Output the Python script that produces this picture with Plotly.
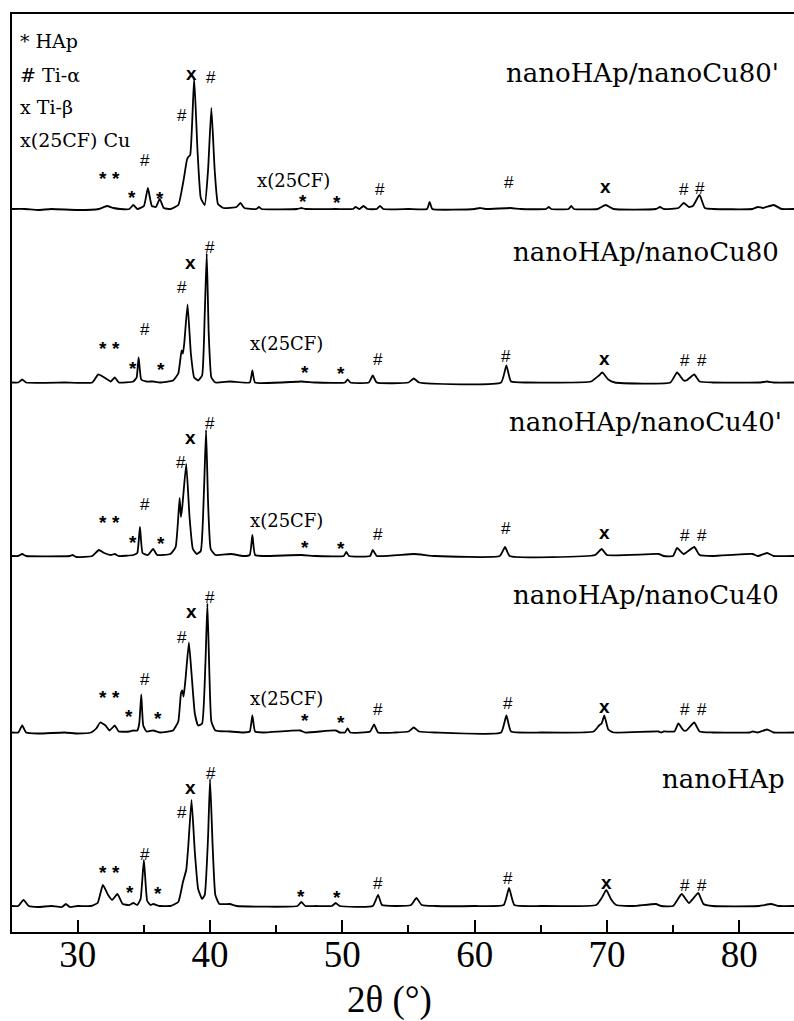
import plotly.graph_objects as go

# ---------------- data ----------------
samples = ["nanoHAp/nanoCu80'", "nanoHAp/nanoCu80", "nanoHAp/nanoCu40'",
           "nanoHAp/nanoCu40", "nanoHAp"]
offsets = [722, 548.5, 375, 198.5, 25]   # vertical stacking offset of each pattern

# (2theta, intensity above baseline)
cu80p = [(25.0,1),(26,1),(27,0),(28,1),(30,0),(31.6,1),(32.2,4),(32.7,2),(33.2,1),(33.9,1),
         (34.2,5),(34.5,1),(35.0,4),(35.3,22),(35.6,4),(35.9,3),(36.2,11),(36.5,2),(37.0,1),
         (37.6,5),(38.0,30),(38.25,50),(38.35,53),(38.5,55),(38.8,132),(39.05,60),(39.3,12),
         (39.6,5),(39.85,40),(40.1,102),(40.35,40),(40.6,6),(41.0,2),(42.0,3),(42.3,7),(42.6,2),
         (43.5,1),(43.7,3),(43.9,1),(46.6,1),(46.9,2),(47.2,1),(49.5,1),(50.8,1),(51.0,3),
         (51.3,1),(51.6,4),(51.9,1),(52.6,1),(52.85,4),(53.1,1),(55,1),(56.4,1),(56.6,8),
         (56.8,1),(60.0,1),(60.4,2),(60.8,1),(62.7,2),(63.5,1),(65.4,1),(65.6,3),(65.8,1),
         (67.1,1),(67.3,4),(67.5,1),(69.3,1),(69.9,5),(70.5,1),(73.7,1),(74.0,3),(74.3,1),
         (75.4,2),(75.8,7),(76.2,3),(76.5,4),(77.0,15),(77.4,2),(78,1),(81.0,1),(81.4,3),
         (81.8,2),(82.6,5),(83.2,1),(84.2,1)]
cu80 = [(25.0,1),(25.5,1),(25.8,4),(26.1,1),(29,1),(31.1,1),(31.55,9),(32.0,6),(32.5,2),
        (32.8,6),(33.1,1),(34.2,2),(34.45,6),(34.6,26),(34.8,4),(35.2,2),(35.7,2),(36.2,1),
        (37.2,3),(37.6,10),(37.85,33),(37.95,30),(38.05,40),(38.3,79),(38.55,30),(38.8,6),
        (39.1,3),(39.4,8),(39.6,70),(39.75,130),(39.9,50),(40.1,6),(40.4,1),(41.5,2),(43.0,1),
        (43.2,13),(43.4,1),(46.9,2),(48,1),(50.2,1),(50.4,4),(50.6,1),(52.0,1),(52.3,8),
        (52.6,1),(55.0,1),(55.4,5),(55.8,1),(62.0,1),(62.4,18),(62.75,2),(64,1),(68.8,2),
        (69.4,8),(69.65,11),(70.1,4),(70.6,1),(74.8,1),(75.3,11),(75.8,3),(76.0,3),(76.6,9),
        (77.0,2),(78,1),(81.6,1),(82.1,2),(82.6,1),(84.2,1)]
cu40p = [(25.0,1),(25.5,1),(25.8,3),(26.1,1),(29.4,1),(29.6,2),(29.9,0),(31.1,1),(31.6,7),
         (32.0,4),(32.5,2),(32.8,3),(33.1,1),(34.2,2),(34.5,4),(34.7,30),(34.9,4),(35.3,2),
         (35.7,8),(36.0,2),(37.0,3),(37.4,10),(37.7,59),(37.8,40),(37.9,50),(38.2,93),
         (38.45,40),(38.7,8),(39.0,3),(39.3,6),(39.55,70),(39.7,127),(39.85,55),(40.05,8),
         (40.4,2),(41.6,3),(42.5,1),(43.0,2),(43.2,22),(43.4,2),(44,1),(46.9,2),(48,1),
         (50.1,1),(50.3,5),(50.5,1),(52.1,1),(52.3,7),(52.6,1),(55.4,3),(57,1),(61.9,1),
         (62.3,10),(62.65,1),(69.1,2),(69.6,8),(70.0,2),(73.9,3),(74.3,1),(75.0,1),(75.3,9),
         (75.8,3),(76.6,10),(77.0,2),(78,1),(81.0,3),(81.4,1),(82.1,4),(82.6,1),(84.2,1)]
cu40 = [(25.0,1),(25.5,1),(25.8,8),(26.1,1),(27,0),(29,1),(30,0),(31.0,1),(31.4,5),(31.7,11),
        (32.1,8),(32.4,3),(32.8,8),(33.1,2),(33.9,2),(34.2,3),(34.5,3),(34.65,10),(34.8,39),
        (34.95,8),(35.2,2),(35.7,3),(36.2,1),(37.2,3),(37.6,12),(37.8,40),(37.9,43),(38.0,37),
        (38.15,55),(38.4,91),(38.6,60),(38.85,20),(39.1,8),(39.4,10),(39.65,70),(39.8,130),
        (39.95,60),(40.1,12),(40.4,3),(41.5,2),(42.5,1),(43.0,2),(43.2,18),(43.4,2),(44,1),
        (46.8,3),(47.2,1),(49.5,3),(49.8,1),(50.2,1),(50.4,5),(50.6,1),(52.1,2),(52.4,9),
        (52.7,1),(54,1),(55.0,2),(55.4,6),(55.8,2),(57,1),(62.0,1),(62.4,18),(62.75,2),(65,1),
        (69.0,2),(69.4,8),(69.6,10),(69.8,18),(70.1,4),(70.5,1),(73.9,2),(74.1,1),(74.3,2),
        (75.1,2),(75.4,10),(75.8,3),(76.0,3),(76.6,11),(77.0,2),(78,1),(80.8,1),(81.0,2),
        (81.4,1),(82.1,4),(82.6,1),(84.2,1)]
hap = [(25.0,1),(25.5,1),(25.9,7),(26.3,1),(27,0),(28,1),(28.8,0),(29.1,3),(29.4,0),(30,1),
       (31,1),(31.5,4),(31.9,22),(32.3,12),(32.6,7),(33.0,13),(33.4,3),(33.9,2),(34.2,4),
       (34.5,2),(34.75,8),(35.0,47),(35.25,6),(35.5,2),(35.7,3),(36.2,1),(37.0,1),(37.6,5),
       (37.95,25),(38.2,37),(38.35,60),(38.6,107),(38.85,55),(39.1,18),(39.4,8),(39.6,12),
       (39.85,70),(40.0,128),(40.2,60),(40.4,12),(40.7,3),(41.5,3),(42,1),(46.6,1),(46.9,5),
       (47.2,1),(48,1),(49.2,1),(49.5,4),(49.8,1),(52.3,1),(52.7,12),(53.0,2),(54,1),(55.2,2),
       (55.6,9),(56.0,2),(57,1),(60,1),(62.2,2),(62.6,19),(63.0,2),(65,1),(69.2,2),(69.6,9),
       (69.95,17),(70.3,8),(70.7,2),(72,1),(73.7,3),(74.1,1),(75.0,1),(75.65,13),(76.2,4),
       (76.9,14),(77.3,3),(78,1),(81.5,1),(82.4,3),(83,1),(84.2,1)]
patterns = [cu80p, cu80, cu40p, cu40, hap]

# phase markers: (symbol, 2theta, y on the stacked axis)
marks = [
    ("x",38.6,859),("#",40.1,855),("#",37.9,817),("*",31.9,759),("*",32.9,759),("#",35.1,772),
    ("*",34.1,740),("*",36.2,739),("x(25CF)",46.3,752),("*",47.0,736),("*",49.6,735),
    ("#",52.85,743),("#",62.6,750),("x",69.9,746),("#",75.8,743),("#",77.0,744),
    ("x",38.5,670),("#",40.0,685),("#",37.9,645),("*",31.9,589),("*",32.9,589),("#",35.1,603),
    ("*",34.2,569),("*",36.3,568),("x(25CF)",45.8,589),("*",47.2,565),("*",49.9,564),
    ("#",52.7,573),("#",62.4,576),("x",69.8,574),("#",75.9,572),("#",77.2,572),
    ("x",38.5,495),("#",40.0,509),("#",37.8,470),("*",31.9,415),("*",32.9,415),("#",35.1,428),
    ("*",34.2,395),("*",36.3,394),("x(25CF)",45.8,412),("*",47.2,390),("*",49.9,389),
    ("#",52.7,398),("#",62.4,404),("x",69.8,400),("#",75.9,397),("#",77.2,397),
    ("x",38.56,321),("#",40.0,335),("#",37.9,295),("*",31.9,240),("*",32.9,240),("#",35.1,253),
    ("*",33.9,221),("*",36.1,219),("x(25CF)",45.8,234),("*",47.2,217),("*",49.9,215),
    ("#",52.7,223),("#",62.5,229),("x",69.8,226),("#",75.9,223),("#",77.2,223),
    ("x",38.5,145),("#",40.05,159),("#",37.86,120),("*",31.9,65),("*",32.9,65),("#",35.1,78),
    ("*",33.95,45),("*",36.1,44),("*",46.9,41),("*",49.6,40),("#",52.7,49),("#",62.5,54),
    ("x",70.0,50),("#",75.9,47),("#",77.2,47),
]
title_pos = [(83.16, 859), (83.16, 680), (83.39, 510), (83.16, 337), (83.61, 153)]
key_lines = ["* HAp", "# Ti-α", "x Ti-β", "x(25CF) Cu"]
key_y = [891, 857, 825, 792]
x_ticks = [30, 40, 50, 60, 70, 80]

# ---------------- figure ----------------
fig = go.Figure()
for pts, off in zip(patterns, offsets):
    fig.add_trace(go.Scatter(x=[p[0] for p in pts], y=[p[1] + off for p in pts],
                             mode="lines",
                             line=dict(color="black", width=1.8, shape="spline", smoothing=0.4),
                             showlegend=False, hoverinfo="skip"))

ann = []
for sym, xx, yy in marks:
    if sym == "x(25CF)":
        ann.append(dict(x=xx, y=yy, text=sym, showarrow=False, xref="x", yref="y",
                        font=dict(family="DejaVu Serif", size=18, color="black")))
    elif sym == "x":
        ann.append(dict(x=xx, y=yy, text="<b>x</b>", showarrow=False, xref="x", yref="y",
                        font=dict(family="Liberation Sans", size=19, color="black")))
    elif sym == "*":
        ann.append(dict(x=xx, y=yy - 5, text="<b>*</b>", showarrow=False, xref="x", yref="y",
                        font=dict(family="Liberation Sans", size=19, color="black")))
    else:
        ann.append(dict(x=xx, y=yy, text=sym, showarrow=False, xref="x", yref="y",
                        font=dict(family="Liberation Sans", size=17, color="black")))

for name, (tx, ty) in zip(samples, title_pos):
    ann.append(dict(x=tx, y=ty, text=name, showarrow=False, xref="x", yref="y",
                    xanchor="right", font=dict(family="DejaVu Serif", size=26, color="black")))

for line, ky in zip(key_lines, key_y):
    ann.append(dict(x=25.49, y=ky, text=line, showarrow=False, xref="x", yref="y",
                    xanchor="left", font=dict(family="DejaVu Serif", size=19, color="black")))

ann.append(dict(x=53.6, y=-0.074, text="2θ (°)", showarrow=False, xref="x", yref="paper",
                yanchor="middle",
                font=dict(family="Liberation Serif", size=37, color="black")))

fig.update_layout(
    width=794, height=1021,
    margin=dict(l=12, r=0, t=14, b=89),
    paper_bgcolor="white", plot_bgcolor="white",
    annotations=ann,
    xaxis=dict(range=[25.03, 84.14], tickvals=x_ticks, ticks="inside", ticklen=12,
               tickwidth=1.5, tickcolor="black", showline=True, linecolor="black",
               linewidth=1.5, mirror=True, showgrid=False, zeroline=False,
               ticklabelstandoff=-11,
               tickfont=dict(family="Liberation Serif", size=37, color="black"),
               minor=dict(dtick=5, tick0=25, ticks="inside", ticklen=7, tickwidth=1.5,
                          tickcolor="black", showgrid=False)),
    yaxis=dict(range=[0, 918], showline=True, linecolor="black", linewidth=1.5,
               mirror=False, showgrid=False, zeroline=False, showticklabels=False,
               ticks=""),
)

fig.write_html("out.html", config={"displayModeBar": False},
               post_script="document.body.style.margin='0px';document.body.style.overflow='hidden';")
